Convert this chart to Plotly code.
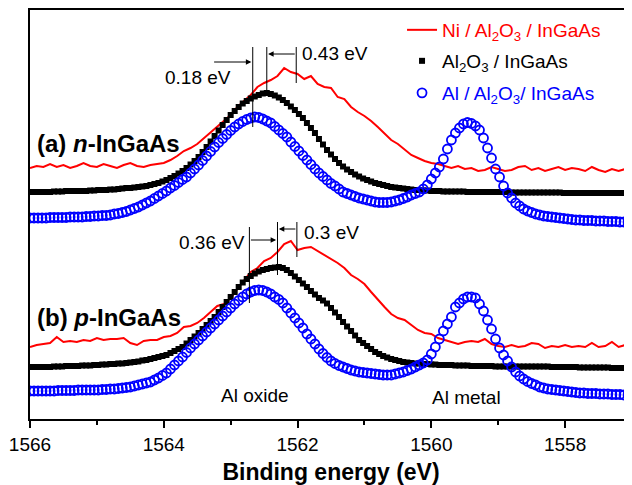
import numpy as np
import plotly.graph_objects as go

# ---------------- data ----------------
# energy grids (eV): marker series sampled every 0.06 eV, Ni/Al2O3 line every 0.1 eV
E_MARK = np.round(1566 - 0.06 * np.arange(151), 2)
E_LINE = np.round(1566 - 0.1 * np.arange(91), 2)

# (a) n-InGaAs  (intensity, arb. units, already offset)
black_a = [227,227,227,227,227,227,227.5,227.5,227.5,228,
           228,228,228,228,228,228.5,228.5,229,229,229,
           229.5,229.5,230,230.5,231,231,231.5,232,232.5,233,
           234,235,236,237.5,239,241,243,245.5,248,251,
           254.5,258,262,267,272,277.5,283,288.5,294,299,
           304,308,312,315.5,318,320.5,322.5,324,325.5,326,
           325,323.5,321.5,319,316,312.5,309,305,301,296,
           291,286,280,274.5,269,264.5,260,256,252.5,249.5,
           247,244.5,242.5,240.5,239,237.5,236,235,234,233,
           232,231.5,231,230.5,230,229.5,229,229,228.5,228.5,
           228,228,228,227.5,227.5,227.5,227.5,227.5,227.5,227,
           227,227,227,227,227,227,227,227,227,227,
           226.5,226.5,226.5,226.5,226.5,226.5,226.5,226.5,226.5,226.5,
           226.5,226.5,226.5,226,226,226,226,226,226,226,
           226,226,226,226,226,226,226,226,226,226,226]

blue_a = [201,201,201,201,201,201.5,201.5,201.5,201.5,201.5,
          202,202,202,202,202.5,202.5,203,203,203.5,203.5,
          204,205,205.5,206.5,207.5,209,210.5,212,214,216,
          218,220.5,223,225.5,228,231,233.5,236.5,239.5,242,
          246,250,254,258.5,263,267.5,272,276.5,280.5,284.5,
          288.5,292,295,297.5,299.5,301,302,301.5,300,298,
          296,292.5,289,285.5,282,277,272.5,268,263.5,259,
          254.5,250,246,242.5,239,235.5,233,230,227,225.5,
          224,222.5,221,220,219,218,217,216.5,216.5,216.5,
          217,218,219,220.5,222,224,225.5,227,230,234,
          240,246,252,260,270,279,286,291,295,296.5,
          295.5,293,289,281,271,261,250,242,233,226,
          221,216,213,210,208,206.5,205,204,203,202.5,
          202,201.5,201,200.5,200,199.5,199,199,198.5,198.5,
          198.5,198,198,198,197.5,197.5,197.5,197,197,197,197]

red_a = [251,253,252,255,252,254,251,253,256,253,
         252,255,253,251,254,256,253,252,254,255,
         256,259,263,268,271,275,281,287,293,299,
         304,312,318,324,332,336,339,343,351,347,
         345,340,343,335,332,331,322,320,312,307,
         303,298,292,286,279,275,269,264,261,258,
         256,255,253,251,253,250,251,248,249,252,
         250,248,249,252,253,249,251,248,250,252,
         249,251,250,248,252,249,247,250,248,250,249]

# (b) p-InGaAs
black_b = [52,52,52,52,52,52,52.5,52.5,52.5,53,
           53,53,53,53.5,53.5,53.5,54,54,54.5,54.5,
           55,55,55.5,55.5,56,56.5,57,57.5,58.5,59,
           60,61,62,63,64,66,68,70,72,75.5,
           79,82.5,86,90,94,98,102,107,112,117,
           122,127,132,136.5,140,143,145.5,147.5,149,150,
           151,151.5,152,151,149,146,142.5,139,135.5,132,
           128,124.5,121,118.5,115.5,111,106.5,102,97,92.5,
           88,83.5,79,76,73,70,67,65,63,61.5,
           60,59,58,57,56.5,56,55.5,55.5,55,55,
           54.5,54.5,54,54,54,54,53.5,53.5,53.5,53.5,
           53,53,53,53,53,53,52.5,52.5,52.5,52.5,
           52.5,52.5,52.5,52.5,52.5,52.5,52.5,52.5,52.5,52.5,
           52,52,52,52,52,52,52,51.5,51.5,51.5,
           51.5,51.5,51.5,51.5,51.5,51,51,51,51,51,51]

blue_b = [28,28,28,28,28,28,28,28.5,28.5,28.5,
          28.5,28.5,29,29,29,29,29,29,29.5,29.5,
          30,30,30.5,31,31.5,32,33,34,35,36,
          37,39,41,43.5,46,50,54,58,62,66.5,
          71,75,79,83,87,91,95,99,103,107,
          111,115,118.5,122,125,127,128.5,129,128.5,127,
          125,122,119.5,116,111,106,101,96,91,85,
          80,75,70,65.5,61.5,58,55.5,53.5,52,50.5,
          49,48,47,46.5,46,45.5,45,44.5,44,44,
          44,45,46,47,48.5,50,52,54,56,59,
          65,72,80,88,95,102,112,116,120,122,
          122,121,115,108,99,90,80,71,64,58,
          52,47,43,40,37.5,35.5,34,32,31,30,
          29.5,29,28.5,28,27.5,27,26.5,26,26,25.5,
          25.5,25.5,25,25,25,24.5,24.5,24.5,24,24,24]

red_b = [72,74,75,76,82,77,78,77,79,78,
         81,79,80,80,81,76,74,78,79,79,
         82,83,86,92,93,96,101,107,113,115,
         121,130,139,147,151,158,161,167,175,178,
         169,171,172,168,164,160,156,151,144,140,
         135,127,119,112,105,101,99,94,89,86,
         85,81,79,77,75,77,78,77,80,75,
         73,72,74,72,73,76,75,71,73,72,
         74,72,73,72,76,72,73,77,72,74,74]

# peak positions (eV) marked by vertical lines, and shift labels
peaks_a = [1562.67, 1562.46, 1562.02]   # Al/Al2O3, Al2O3, Ni/Al2O3
peaks_b = [1562.72, 1562.30, 1562.01]
shift_labels_a = ["0.18 eV", "0.43 eV"]
shift_labels_b = ["0.36 eV", "0.3 eV"]

RED, BLUE, BLACK = "#FF0000", "#0000FF", "#000000"
FONT = "Liberation Sans, Arial, sans-serif"

names = ['<span style="color:#FF0000">Ni / Al<sub>2</sub>O<sub>3</sub> / InGaAs</span>',
         '<span style="color:#000000">Al<sub>2</sub>O<sub>3</sub> / InGaAs</span>',
         '<span style="color:#0000FF">Al / Al<sub>2</sub>O<sub>3</sub>/ InGaAs</span>']

fig = go.Figure()
for k, (red, black, blue) in enumerate([(red_a, black_a, blue_a), (red_b, black_b, blue_b)]):
    show = (k == 0)
    fig.add_trace(go.Scatter(x=E_LINE, y=red, mode="lines", line=dict(color=RED, width=2),
                             name=names[0], legend="legend", showlegend=show))
    fig.add_trace(go.Scatter(x=E_MARK, y=black, mode="markers",
                             marker=dict(symbol="square", size=6, color=BLACK, line=dict(width=0)),
                             name=names[1], legend="legend2", showlegend=show))
    fig.add_trace(go.Scatter(x=E_MARK, y=blue, mode="markers",
                             marker=dict(symbol="circle-open", size=9, color=BLUE, line=dict(width=1.8)),
                             name=names[2], legend="legend3", showlegend=show))

# vertical peak lines
line_spec = [(peaks_a, [(292, 372), (326, 372), (336, 372)]),
             (peaks_b, [(116, 192), (144, 197), (162, 197)])]
for pk, spans in line_spec:
    for e, (y0, y1) in zip(pk, spans):
        fig.add_shape(type="line", x0=e, x1=e, y0=y0, y1=y1, xref="x", yref="y",
                      line=dict(color=BLACK, width=1))

annotations = []
def arrow(x_tip, x_tail, y):
    annotations.append(dict(x=x_tip, y=y, ax=x_tail, ay=y, xref="x", yref="y", axref="x", ayref="y",
                            text="", showarrow=True, arrowhead=2, arrowsize=1.1, arrowwidth=1,
                            arrowcolor=BLACK, standoff=0, startstandoff=0))

# (a) arrows
arrow(peaks_a[0] + 0.02, 1563.27, 357)
arrow(peaks_a[1] - 0.02, peaks_a[2], 365)
# (b) arrows
arrow(peaks_b[1] + 0.02, peaks_b[0], 179)
arrow(peaks_b[1] - 0.02, peaks_b[2], 190)

tf = dict(family=FONT, size=19, color=BLACK)
annotations += [
    dict(x=1563.49, y=342, text=shift_labels_a[0], xanchor="center", yanchor="middle"),
    dict(x=1561.97, y=366, text=shift_labels_a[1], xanchor="left", yanchor="middle"),
    dict(x=1562.76, y=177, text=shift_labels_b[0], xanchor="right", yanchor="middle"),
    dict(x=1561.94, y=187, text=shift_labels_b[1], xanchor="left", yanchor="middle"),
    dict(x=1562.64, y=24, text="Al oxide", xanchor="center", yanchor="middle"),
    dict(x=1559.48, y=22, text="Al metal", xanchor="center", yanchor="middle"),
]
for a in annotations[-6:]:
    a.update(xref="x", yref="y", showarrow=False, font=tf)

lab_font = dict(family=FONT, size=24, color=BLACK)
annotations += [
    dict(x=1565.93, y=276, text="<b>(a) <i>n</i>-InGaAs</b>", xref="x", yref="y",
         xanchor="left", yanchor="middle", showarrow=False, font=lab_font),
    dict(x=1565.93, y=102, text="<b>(b) <i>p</i>-InGaAs</b>", xref="x", yref="y",
         xanchor="left", yanchor="middle", showarrow=False, font=lab_font),
]

leg = dict(x=0.618, xanchor="left", yanchor="top", bgcolor="rgba(0,0,0,0)",
           font=dict(family=FONT, size=19))

# the page body adds an 8 px margin, so the figure is 8 px smaller and margins are shifted
fig.update_layout(
    width=624, height=477,
    margin=dict(l=22, r=0, t=2, b=66, autoexpand=False),
    paper_bgcolor="white", plot_bgcolor="white",
    font=dict(family=FONT, size=19, color=BLACK),
    annotations=annotations,
    legend=dict(leg, y=0.9976),
    legend2=dict(leg, y=0.9218),
    legend3=dict(leg, y=0.8435),
    xaxis=dict(range=[1566, 1557.0], showline=True, linecolor=BLACK, linewidth=2, mirror=True,
               ticks="outside", ticklen=7, tickwidth=1.5, tickcolor=BLACK,
               tick0=1566, dtick=2, tickfont=dict(family=FONT, size=19, color=BLACK),
               minor=dict(ticks="outside", ticklen=4, tickwidth=1.5, dtick=1, tickcolor=BLACK),
               showgrid=False, zeroline=False,
               title=dict(text="<b>Binding energy (eV)</b>", font=dict(family=FONT, size=23, color=BLACK),
                          standoff=14)),
    yaxis=dict(range=[0, 409], showline=True, linecolor=BLACK, linewidth=2,
               ticks="", showticklabels=False, showgrid=False, zeroline=False),
)

fig.write_html("out.html")
